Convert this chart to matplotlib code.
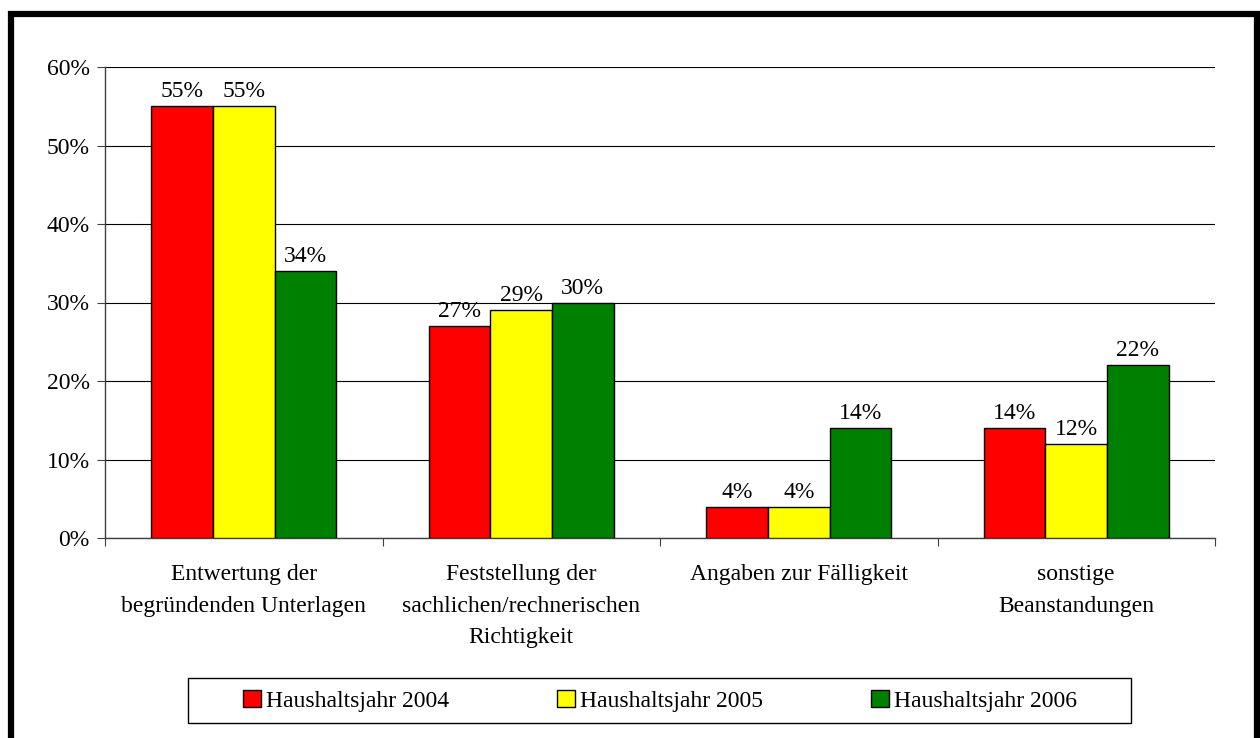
import numpy as np
import matplotlib.pyplot as plt
from matplotlib.patches import Rectangle

categories = ['Entwertung der\nbegründenden Unterlagen',
              'Feststellung der\nsachlichen/rechnerischen\nRichtigkeit',
              'Angaben zur Fälligkeit',
              'sonstige\nBeanstandungen']
series_names = ['Haushaltsjahr 2004', 'Haushaltsjahr 2005', 'Haushaltsjahr 2006']
values_2004 = [55, 27, 4, 14]
values_2005 = [55, 29, 4, 12]
values_2006 = [34, 30, 14, 22]
yticks = [0, 10, 20, 30, 40, 50, 60]

colors = ['#ff0000', '#ffff00', '#008000']

plt.rcParams['font.family'] = ['Liberation Serif', 'DejaVu Serif']
plt.rcParams['font.size'] = 17

fig = plt.figure(figsize=(12.6, 7.38), dpi=100)
ax = fig.add_axes([105 / 1260, 1 - 538 / 738, 1110 / 1260, 471 / 738])

x = np.arange(len(categories))
w = 0.222
for i, vals in enumerate([values_2004, values_2005, values_2006]):
    pos = x + (i - 1) * w
    ax.bar(pos, vals, width=w, color=colors[i], edgecolor='black',
           linewidth=1, label=series_names[i], zorder=3)
    for p, v in zip(pos, vals):
        ax.text(p, v + 0.5, f'{v}%', ha='center', va='bottom', fontsize=17)

ax.set_xlim(-0.5, len(categories) - 0.5)
ax.set_ylim(0, 60)
ax.set_yticks(yticks)
ax.set_yticklabels([f'{t}%' for t in yticks])
ax.yaxis.grid(True, color='black', linewidth=0.8, zorder=0)
ax.set_axisbelow(True)

# category labels between boundary ticks
ax.set_xticks(np.arange(-0.5, len(categories)), minor=False)
ax.set_xticklabels([])
ax.set_xticks(x, minor=True)
ax.set_xticklabels(categories, minor=True, va='top', linespacing=1.65)
ax.tick_params(axis='x', which='minor', length=0, pad=19)
ax.tick_params(axis='x', which='major', length=6, direction='out', color='#404040')
ax.tick_params(axis='y', length=6, direction='out', color='#404040', pad=5)

for s in ['top', 'right']:
    ax.spines[s].set_visible(False)
for s in ['left', 'bottom']:
    ax.spines[s].set_color('#404040')
    ax.spines[s].set_linewidth(1)

leg = fig.legend(loc='center', bbox_to_anchor=(660 / 1260, 1 - 701 / 738),
                 ncol=3, frameon=False,
                 handlelength=0.75, handleheight=0.7, handletextpad=0.2,
                 columnspacing=4.6, fontsize=17)
for h in leg.legend_handles:
    h.set_edgecolor('black')
    h.set_linewidth(1)

# legend box
fig.patches.append(Rectangle((188 / 1260, 1 - 723 / 738), (1131 - 188) / 1260, 45 / 738,
                             transform=fig.transFigure, fill=False,
                             edgecolor='black', linewidth=1))

# thick frame around the figure
fig.patches.append(Rectangle((10.5 / 1260, -0.05), (1256.5 - 10.5) / 1260, 1.05 - 14 / 738,
                             transform=fig.transFigure, fill=False,
                             edgecolor='black', linewidth=4.5))

fig.savefig('out.png', dpi=100)
